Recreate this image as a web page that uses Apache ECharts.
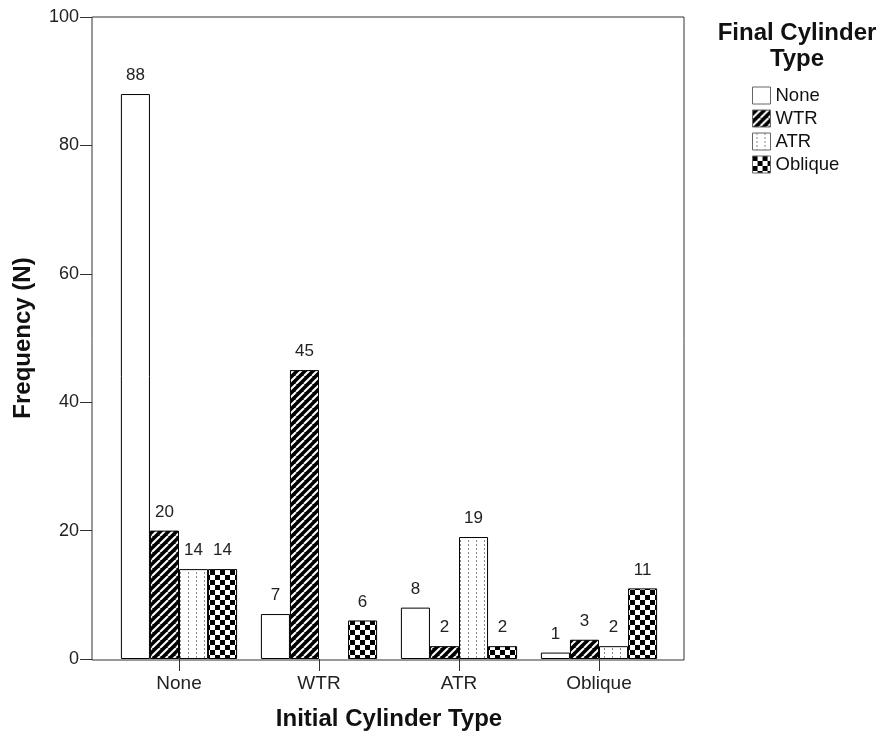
<!DOCTYPE html>
<html>
<head>
<meta charset="utf-8">
<script src="https://cdn.jsdelivr.net/npm/echarts@6/dist/echarts.min.js"></script>
<style>html,body{margin:0;padding:0;background:#fff}#c{width:877px;height:736px}</style>
</head>
<body>
<div id="c"></div>
<script>
const categories = ['None', 'WTR', 'ATR', 'Oblique'];
const seriesNames = ['None', 'WTR', 'ATR', 'Oblique'];
const noneValues = [88, 7, 8, 1];
const wtrValues = [20, 45, 2, 3];
const atrValues = [14, null, 19, 2];
const obliqueValues = [14, 6, 2, 11];
const yMin = 0, yMax = 100, yStep = 20;

function makeCanvas(w, h, draw) {
  const c = document.createElement('canvas');
  c.width = w; c.height = h;
  const g = c.getContext('2d');
  draw(g, w, h);
  return c;
}
const solidWhite = '#ffffff';
const stripes = makeCanvas(8, 8, (g, w, h) => {
  g.fillStyle = '#000'; g.fillRect(0, 0, w, h);
  g.strokeStyle = '#fff'; g.lineWidth = 2;
  for (let k = -1; k <= 1; k++) {
    g.beginPath(); g.moveTo(k * w, h); g.lineTo(k * w + w, 0); g.stroke();
  }
});
const dots = makeCanvas(8, 4, (g, w, h) => {
  g.fillStyle = '#fff'; g.fillRect(0, 0, w, h);
  g.fillStyle = '#888'; g.fillRect(4, 0, 1, 2);
});
const checker = makeCanvas(10, 10, (g, w, h) => {
  g.fillStyle = '#fff'; g.fillRect(0, 0, w, h);
  g.fillStyle = '#000'; g.fillRect(0, 0, 5, 5); g.fillRect(5, 5, 5, 5);
});
const fills = [solidWhite, {image: stripes, repeat: 'repeat'}, {image: dots, repeat: 'repeat'}, {image: checker, repeat: 'repeat'}];
const valueSets = [noneValues, wtrValues, atrValues, obliqueValues];

const font = 'Liberation Sans, Arial, sans-serif';
const chart = echarts.init(document.getElementById('c'));
chart.setOption({
  animation: false,
  backgroundColor: '#fff',
  title: {
    text: 'Final Cylinder\nType', left: 797, top: 20, textAlign: 'center', padding: 0,
    textStyle: {fontFamily: font, fontSize: 24, fontWeight: 'bold', color: '#111', lineHeight: 26}
  },
  legend: {
    orient: 'vertical', left: 752, top: 86, itemWidth: 18, itemHeight: 17, itemGap: 4,
    icon: 'rect', data: seriesNames, padding: 0,
    itemStyle: {borderColor: '#666', borderWidth: 1},
    textStyle: {fontFamily: font, fontSize: 18.5, color: '#111', lineHeight: 17}
  },
  grid: [
    {left: 109, right: 208, top: 17, bottom: 76},
    {left: 92, right: 193, top: 17, bottom: 76, show: true, borderColor: '#333', borderWidth: 1, backgroundColor: 'transparent'}
  ],
  xAxis: [
    {
      type: 'category', data: categories, gridIndex: 0,
      axisLine: {show: false},
      axisTick: {show: true, alignWithLabel: true, length: 12, lineStyle: {color: '#333'}},
      axisLabel: {fontFamily: font, fontSize: 19, color: '#222', margin: 15},
      name: 'Initial Cylinder Type', nameLocation: 'middle', nameGap: 48,
      nameTextStyle: {fontFamily: font, fontSize: 24, fontWeight: 'bold', color: '#111'}
    },
    {type: 'value', gridIndex: 1, show: false, min: 0, max: 1}
  ],
  yAxis: [
    {
      type: 'value', gridIndex: 0, min: yMin, max: yMax, interval: yStep, offset: 17,
      axisLine: {show: false},
      axisTick: {show: true, length: 12, lineStyle: {color: '#333'}},
      splitLine: {show: false},
      axisLabel: {fontFamily: font, fontSize: 18, color: '#222', margin: 13},
      name: 'Frequency (N)', nameLocation: 'middle', nameGap: 57,
      nameTextStyle: {fontFamily: font, fontSize: 24, fontWeight: 'bold', color: '#111'}
    },
    {type: 'value', gridIndex: 1, show: false, min: 0, max: 1}
  ],
  series: seriesNames.map((n, i) => ({
    name: n, type: 'bar', xAxisIndex: 0, yAxisIndex: 0,
    data: valueSets[i],
    barGap: '0%', barCategoryGap: '17%',
    itemStyle: {color: fills[i], borderColor: '#000', borderWidth: 1},
    label: {show: true, position: 'top', distance: 10, fontFamily: font, fontSize: 17, color: '#222'}
  }))
});
</script>
</body>
</html>
